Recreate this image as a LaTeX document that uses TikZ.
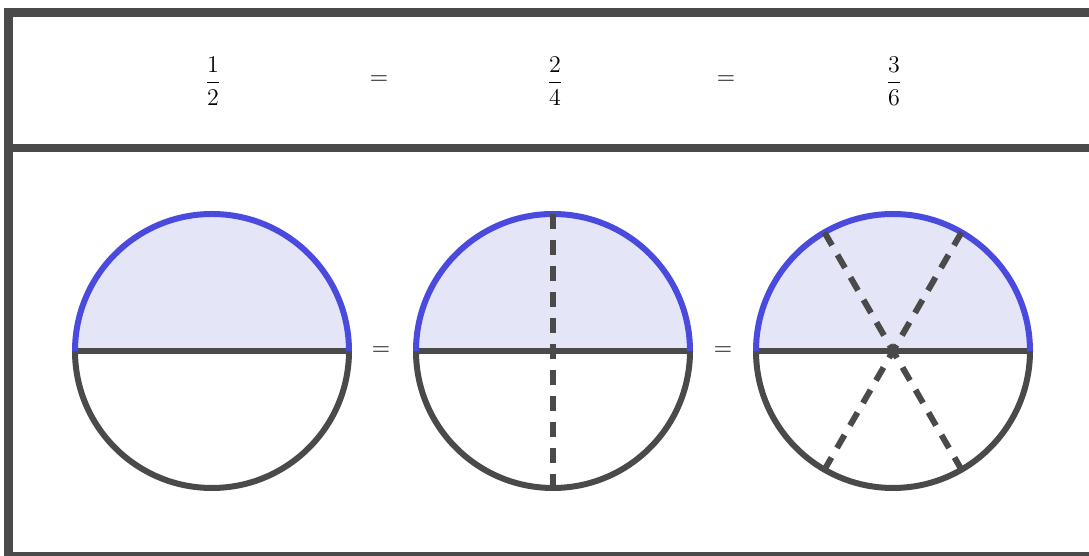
\documentclass[tikz,border=0pt]{standalone}
\usepackage{amsmath}
\usepackage{xcolor}
\usepackage{tikz}
\definecolor{rim}{RGB}{74,74,74}
\definecolor{halfblue}{RGB}{74,74,222}
\definecolor{halffill}{RGB}{229,229,248}

\begin{document}
\begin{tikzpicture}[x=0.5pt,y=0.5pt,
        every node/.style={font=\fontsize{13}{15}\selectfont},
        frame/.style={rim,line width=4.2pt},
        edge/.style={rim,line width=3pt},
        top/.style={halfblue,line width=3pt},
        cut/.style={rim,line width=3pt,dash pattern=on 7.5pt off 5.5pt}]
        \useasboundingbox (0,0) rectangle (1089,556);
        % table lines
        \draw[frame] (1100,543.5) -- (8.5,543.5) -- (8.5,-10);
        \draw[frame] (8.5,408) -- (1100,408);
        \draw[frame] (8.5,0) -- (1100,0);
        % fractions row
        \node (fa) at (213,475) {$\dfrac{1}{2}$};
        \node (eqa) at (379,476) {$=$};
        \node (fb) at (555,475) {$\dfrac{2}{4}$};
        \node (eqb) at (726,476) {$=$};
        \node (fc) at (894,475) {$\dfrac{3}{6}$};
        % circles
        \foreach \cx/\nm in {212/ca,553/cb,893/cc} {
            \coordinate (\nm) at (\cx,205);
            \fill[halffill] (\nm) ++(0:137) arc[start angle=0,end angle=180,radius=137] -- cycle;
            \draw[edge] (\nm) ++(0:137) arc[start angle=0,end angle=-180,radius=137];
            \draw[edge] (\nm) ++(180:137) -- ++(274,0);
            \draw[top] (\nm) ++(0:137) arc[start angle=0,end angle=180,radius=137];
        }
        \draw[cut] (cb) ++(90:137) -- ++(270:274);
        \draw[cut] (cc) ++(60:137) -- ++(240:274);
        \draw[cut] (cc) ++(120:137) -- ++(300:274);
        \node (eqc) at (381,205) {$=$};
        \node (eqd) at (723,205) {$=$};
    \end{tikzpicture}
\end{document}
